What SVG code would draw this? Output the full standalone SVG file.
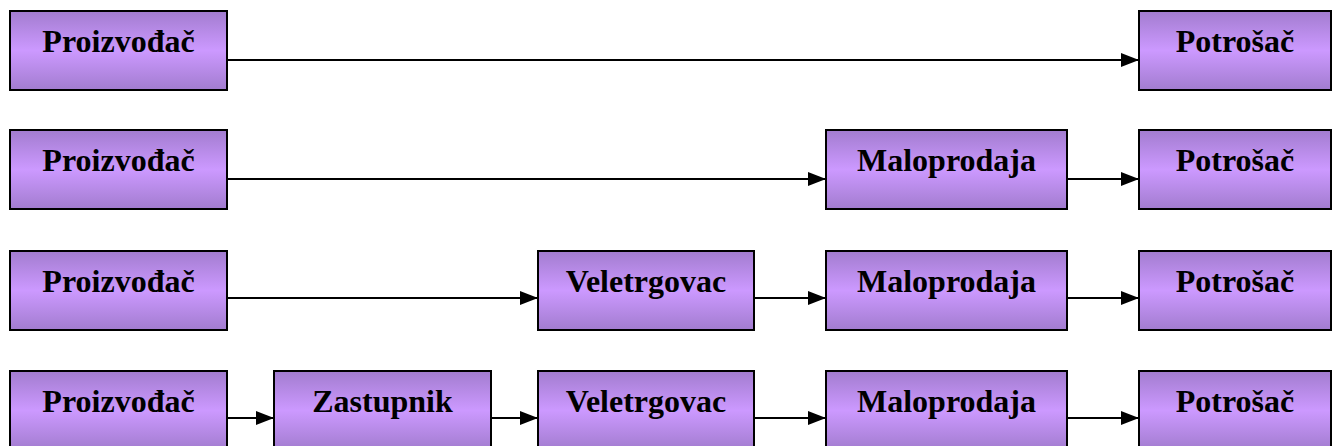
<svg xmlns="http://www.w3.org/2000/svg" width="1338" height="446" viewBox="0 0 1338 446">
<defs>
<linearGradient id="g" x1="0" y1="0" x2="0" y2="1">
<stop offset="0" stop-color="#a27ccf"/>
<stop offset="0.5" stop-color="#cc99ff"/>
<stop offset="1" stop-color="#a27ccf"/>
</linearGradient>
<marker id="ah" markerWidth="18" markerHeight="14" refX="18" refY="7" orient="auto" markerUnits="userSpaceOnUse">
<path d="M0,0 L18,7 L0,14 Z" fill="#000"/>
</marker>
</defs>
<style>
.box{fill:url(#g);stroke:#000;stroke-width:2}
.lbl{font-family:"Liberation Serif","Times New Roman",serif;font-weight:bold;font-size:32px;fill:#000;text-anchor:middle}
.c{stroke:#000;stroke-width:2;fill:none;marker-end:url(#ah)}
</style>
<rect width="1338" height="446" fill="#fff"/>
<g id="connectors">
<line class="c" x1="227" y1="60" x2="1139" y2="60"/>
<line class="c" x1="227" y1="179" x2="826" y2="179"/>
<line class="c" x1="1067" y1="179" x2="1139" y2="179"/>
<line class="c" x1="227" y1="298" x2="538" y2="298"/>
<line class="c" x1="754" y1="298" x2="826" y2="298"/>
<line class="c" x1="1067" y1="298" x2="1139" y2="298"/>
<line class="c" x1="227" y1="418" x2="274" y2="418"/>
<line class="c" x1="491" y1="418" x2="538" y2="418"/>
<line class="c" x1="754" y1="418" x2="826" y2="418"/>
<line class="c" x1="1067" y1="418" x2="1139" y2="418"/>
</g>
<g id="r1-proizvodjac"><rect class="box" x="10" y="11" width="217" height="79"/><text class="lbl" x="118.5" y="52">Proizvođač</text></g>
<g id="r1-potrosac"><rect class="box" x="1139" y="11" width="192" height="79"/><text class="lbl" x="1235" y="52">Potrošač</text></g>
<g id="r2-proizvodjac"><rect class="box" x="10" y="130" width="217" height="79"/><text class="lbl" x="118.5" y="171">Proizvođač</text></g>
<g id="r2-maloprodaja"><rect class="box" x="826" y="130" width="241" height="79"/><text class="lbl" x="946.5" y="171">Maloprodaja</text></g>
<g id="r2-potrosac"><rect class="box" x="1139" y="130" width="192" height="79"/><text class="lbl" x="1235" y="171">Potrošač</text></g>
<g id="r3-proizvodjac"><rect class="box" x="10" y="251" width="217" height="79"/><text class="lbl" x="118.5" y="292">Proizvođač</text></g>
<g id="r3-veletrgovac"><rect class="box" x="538" y="251" width="216" height="79"/><text class="lbl" x="646" y="292">Veletrgovac</text></g>
<g id="r3-maloprodaja"><rect class="box" x="826" y="251" width="241" height="79"/><text class="lbl" x="946.5" y="292">Maloprodaja</text></g>
<g id="r3-potrosac"><rect class="box" x="1139" y="251" width="192" height="79"/><text class="lbl" x="1235" y="292">Potrošač</text></g>
<g id="r4-proizvodjac"><rect class="box" x="10" y="371" width="217" height="79"/><text class="lbl" x="118.5" y="412">Proizvođač</text></g>
<g id="r4-zastupnik"><rect class="box" x="274" y="371" width="217" height="79"/><text class="lbl" x="382.5" y="412">Zastupnik</text></g>
<g id="r4-veletrgovac"><rect class="box" x="538" y="371" width="216" height="79"/><text class="lbl" x="646" y="412">Veletrgovac</text></g>
<g id="r4-maloprodaja"><rect class="box" x="826" y="371" width="241" height="79"/><text class="lbl" x="946.5" y="412">Maloprodaja</text></g>
<g id="r4-potrosac"><rect class="box" x="1139" y="371" width="192" height="79"/><text class="lbl" x="1235" y="412">Potrošač</text></g>
</svg>
